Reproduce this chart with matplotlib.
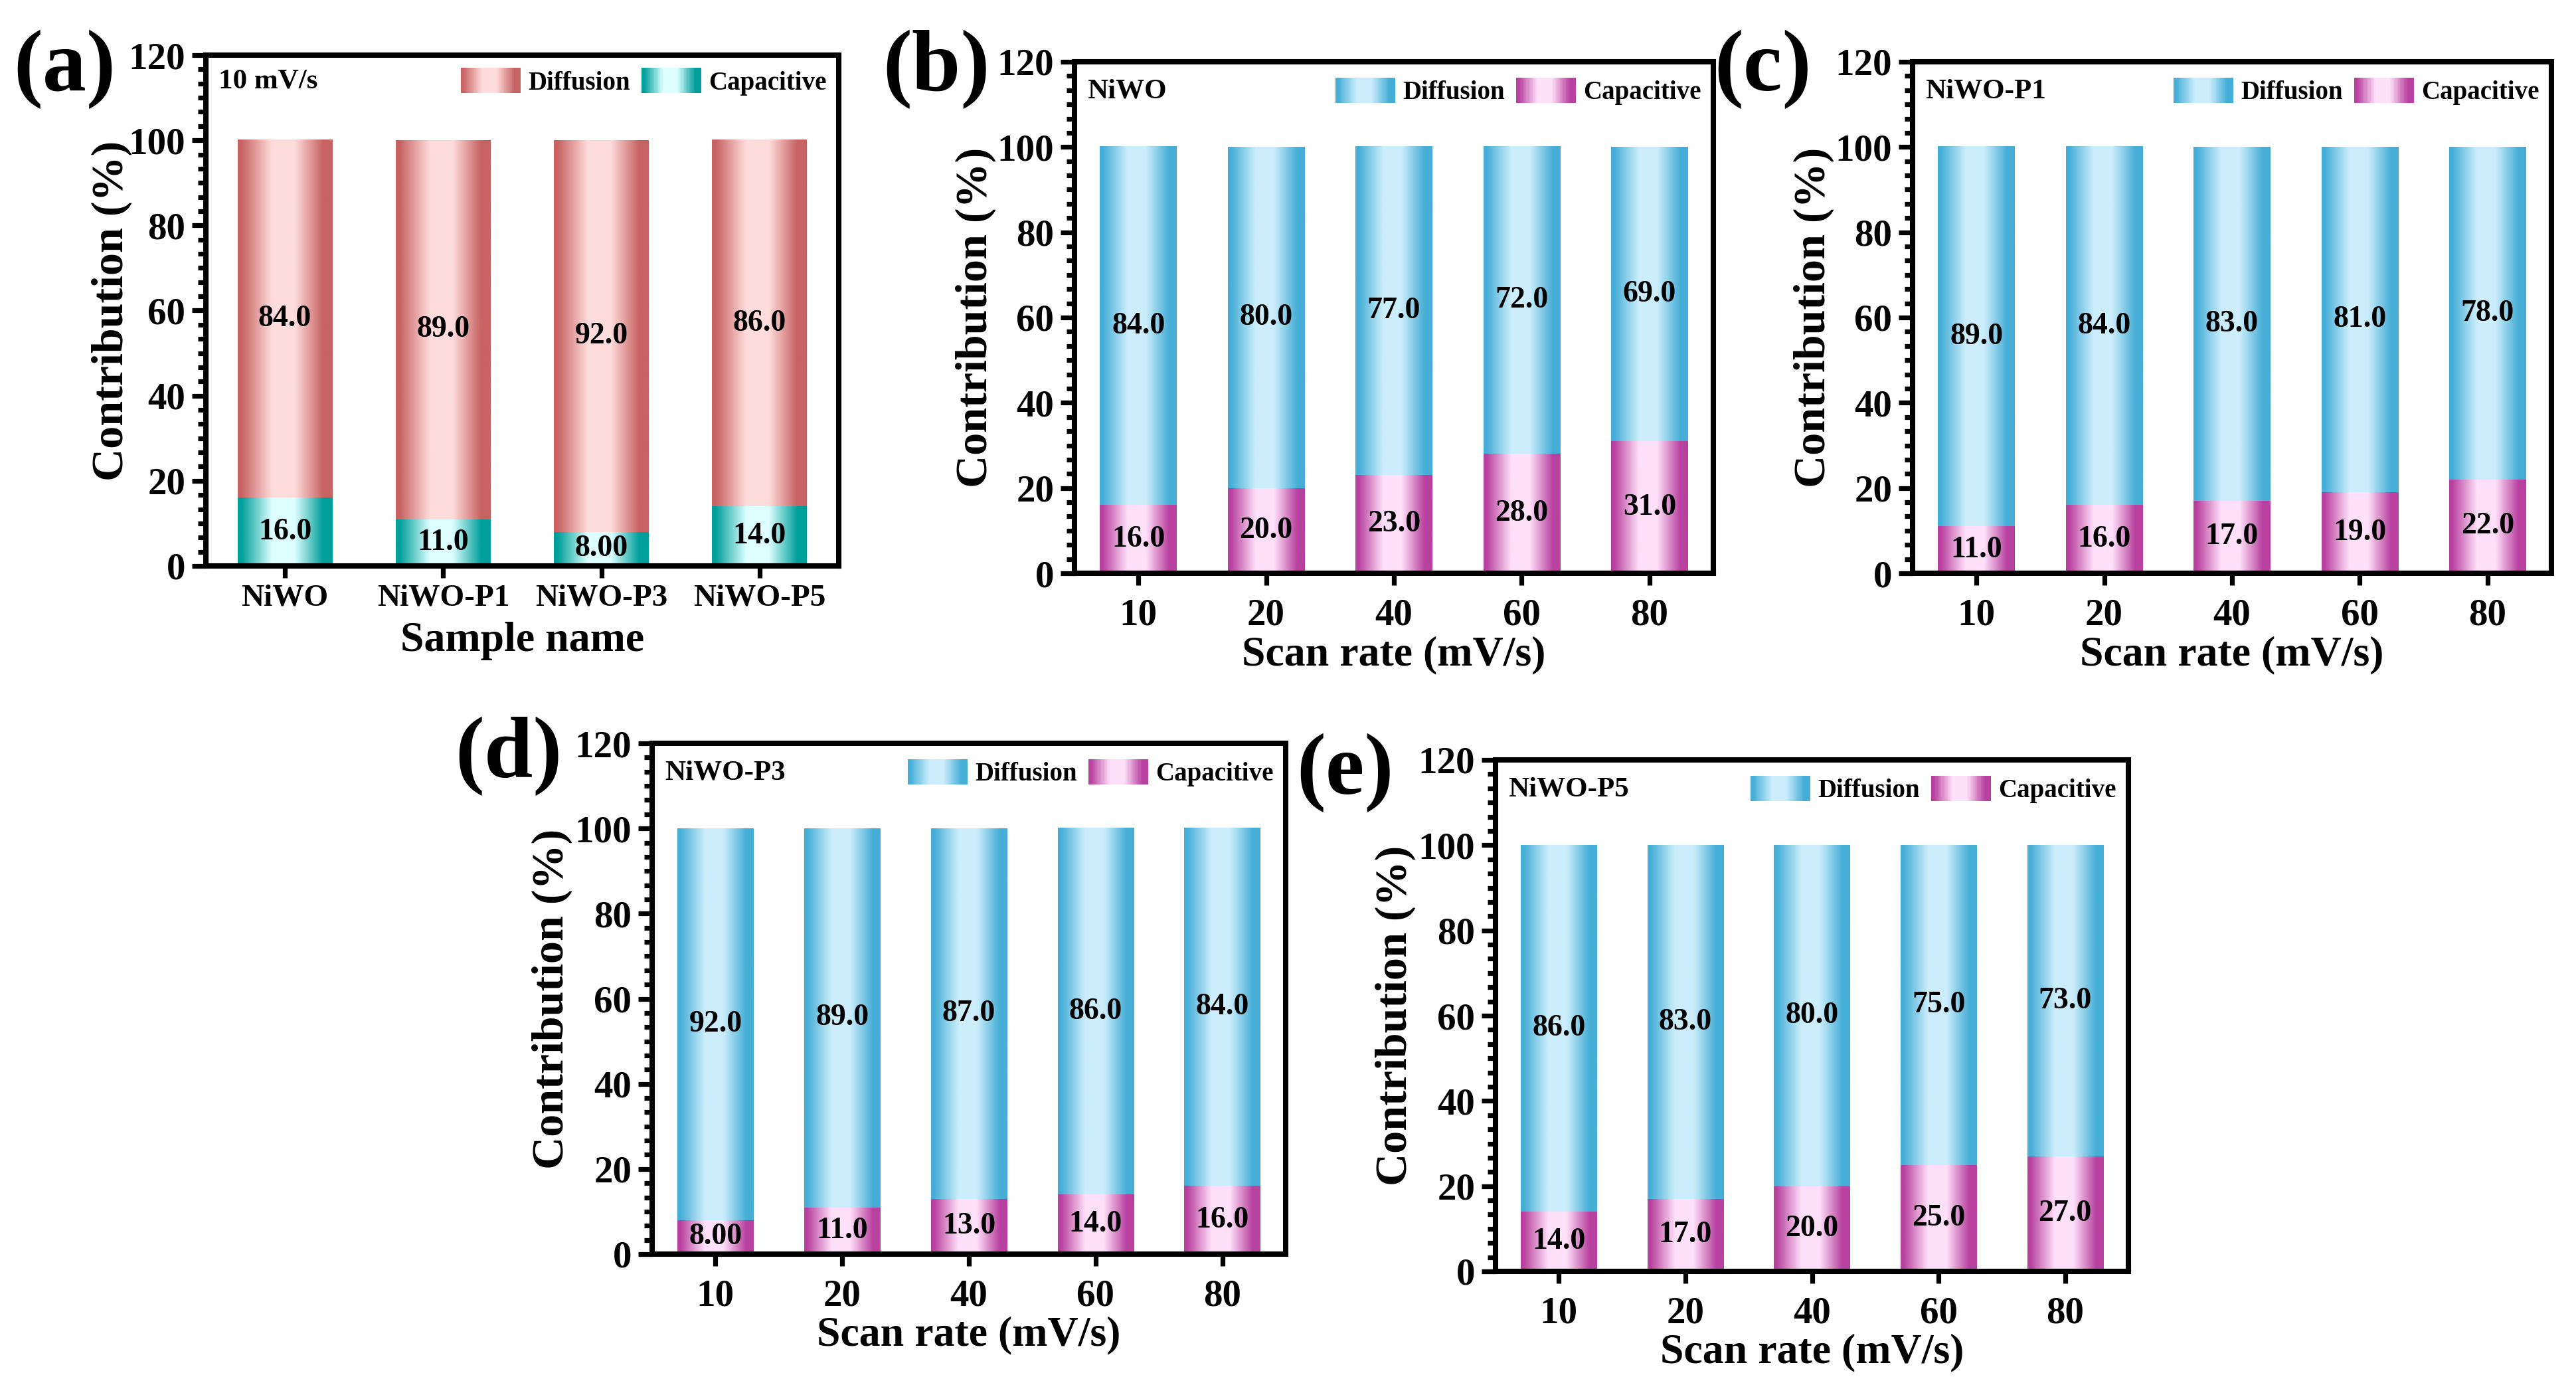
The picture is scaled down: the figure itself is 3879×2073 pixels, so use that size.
import numpy as np
import matplotlib
matplotlib.use('Agg')
import matplotlib.pyplot as plt
from matplotlib.colors import LinearSegmentedColormap
from matplotlib.patches import Patch, Rectangle
from matplotlib.legend_handler import HandlerBase
from matplotlib.ticker import MultipleLocator, AutoMinorLocator

plt.rcParams['font.family'] = ['Liberation Serif', 'DejaVu Serif']
plt.rcParams['font.weight'] = 'bold'

samples = ['NiWO', 'NiWO-P1', 'NiWO-P3', 'NiWO-P5']
cap_10 = [16.0, 11.0, 8.00, 14.0]
diff_10 = [84.0, 89.0, 92.0, 86.0]

scan_rates = ['10', '20', '40', '60', '80']
cap_niwo = [16.0, 20.0, 23.0, 28.0, 31.0]
diff_niwo = [84.0, 80.0, 77.0, 72.0, 69.0]
cap_p1 = [11.0, 16.0, 17.0, 19.0, 22.0]
diff_p1 = [89.0, 84.0, 83.0, 81.0, 78.0]
cap_p3 = [8.00, 11.0, 13.0, 14.0, 16.0]
diff_p3 = [92.0, 89.0, 87.0, 86.0, 84.0]
cap_p5 = [14.0, 17.0, 20.0, 25.0, 27.0]
diff_p5 = [86.0, 83.0, 80.0, 75.0, 73.0]


def grad_cmap(dark, light):
    return LinearSegmentedColormap.from_list(
        'g', [(0.0, dark), (0.04, dark), (0.36, light), (0.6, light), (0.9, dark), (1.0, dark)])


pink = grad_cmap('#C76362', '#FFDCDC')
teal = grad_cmap('#009F9B', '#DDFFFF')
blue = grad_cmap('#46AED6', '#CCEEFC')
mag = grad_cmap('#B8419F', '#FFE0F9')


class GradHandler(HandlerBase):
    def __init__(self, cmap):
        super().__init__()
        self.cmap = cmap

    def create_artists(self, legend, orig_handle, xdescent, ydescent, width, height, fontsize, trans):
        n = 48
        arts = []
        for i in range(n):
            arts.append(Rectangle((-xdescent + width * i / n, -ydescent), width / n * 1.1, height,
                                  facecolor=self.cmap((i + 0.5) / n), edgecolor='none', transform=trans))
        return arts


def fmt(v):
    return '%.2f' % v if v < 10 else '%.1f' % v


def panel(rect, cats, cap, diff, cdiff, ccap, note, tick_fs, xpad, xlabel, xlab_y, ylab_x, leg_y):
    W, H = 3880, 2073
    l, r, t, b = rect
    ax = fig.add_axes([l / W, 1 - b / H, (r - l) / W, (b - t) / H])
    x = np.arange(len(cats))
    w = 0.6
    for xi, c, d in zip(x, cap, diff):
        ax.imshow(np.linspace(0, 1, 256)[None, :], extent=[xi - w / 2, xi + w / 2, 0, c],
                  aspect='auto', cmap=ccap, zorder=2, interpolation='bilinear')
        ax.imshow(np.linspace(0, 1, 256)[None, :], extent=[xi - w / 2, xi + w / 2, c, c + d],
                  aspect='auto', cmap=cdiff, zorder=2, interpolation='bilinear')
    b1 = ax.bar(x, cap, width=w, color='none', edgecolor='none')
    b2 = ax.bar(x, diff, bottom=cap, width=w, color='none', edgecolor='none')
    ax.bar_label(b1, labels=[fmt(v) for v in cap], label_type='center', fontsize=33, fontweight='bold', zorder=4)
    ax.bar_label(b2, labels=[fmt(v) for v in diff], label_type='center', fontsize=33, fontweight='bold', zorder=4)

    ax.set_xlim(-0.5, len(cats) - 0.5)
    ax.set_ylim(0, 120)
    ax.set_xticks(x)
    ax.set_xticklabels(cats)
    ax.yaxis.set_major_locator(MultipleLocator(20))
    ax.yaxis.set_minor_locator(AutoMinorLocator(6))
    for s in ax.spines.values():
        s.set_linewidth(5.8)
    ax.tick_params(axis='y', which='major', direction='out', length=15, width=5.2, labelsize=41, pad=7)
    ax.tick_params(axis='y', which='minor', direction='out', length=9, width=5.2)
    ax.tick_params(axis='x', which='major', direction='out', length=13, width=5.2, labelsize=tick_fs, pad=xpad)
    ax.set_xlabel(xlabel, fontsize=46, fontweight='bold')
    ax.xaxis.set_label_coords(0.5, xlab_y)
    ax.xaxis.label.set_va('center')
    ax.set_ylabel('Contribution (%)', fontsize=49, fontweight='bold')
    ax.yaxis.set_label_coords(ylab_x, 0.5)
    ax.yaxis.label.set_va('center')

    ax.text(0.02, leg_y, note, transform=ax.transAxes, fontsize=31, fontweight='bold', va='center', ha='left')
    h1 = Patch(label='Diffusion')
    h2 = Patch(label='Capacitive')
    ax.legend(handles=[h1, h2], handler_map={h1: GradHandler(cdiff), h2: GradHandler(ccap)},
              ncol=2, frameon=False, fontsize=28, loc='center right',
              bbox_to_anchor=(1 - 18 / (r - l), leg_y), borderaxespad=0, borderpad=0,
              handlelength=2.3, handleheight=1.13, handletextpad=0.3, columnspacing=0.45)
    return ax


fig = plt.figure(figsize=(38.8, 20.73), dpi=100)

panel((310, 1263, 83, 852), samples, cap_10, diff_10, pink, teal, '10 mV/s', 34, 7, 'Sample name', -0.147, -0.149, 0.948)
panel((1618, 2580, 93, 863), scan_rates, cap_niwo, diff_niwo, blue, mag, 'NiWO', 41, 14, 'Scan rate (mV/s)', -0.16, -0.155, 0.942)
panel((2880, 3842, 93, 863), scan_rates, cap_p1, diff_p1, blue, mag, 'NiWO-P1', 41, 14, 'Scan rate (mV/s)', -0.16, -0.155, 0.942)
panel((982, 1936, 1119, 1888), scan_rates, cap_p3, diff_p3, blue, mag, 'NiWO-P3', 41, 14, 'Scan rate (mV/s)', -0.159, -0.158, 0.942)
panel((2252, 3205, 1144, 1914), scan_rates, cap_p5, diff_p5, blue, mag, 'NiWO-P5', 41, 14, 'Scan rate (mV/s)', -0.159, -0.158, 0.942)

W, H = 3880, 2073
for lab, px, py in [('(a)', 20, 104), ('(b)', 1329, 104), ('(c)', 2581, 104), ('(d)', 685, 1138), ('(e)', 1952, 1163)]:
    fig.text(px / W, 1 - py / H, lab, fontsize=95, fontweight='bold', ha='left', va='center')

fig.savefig('out.png', dpi=100)
